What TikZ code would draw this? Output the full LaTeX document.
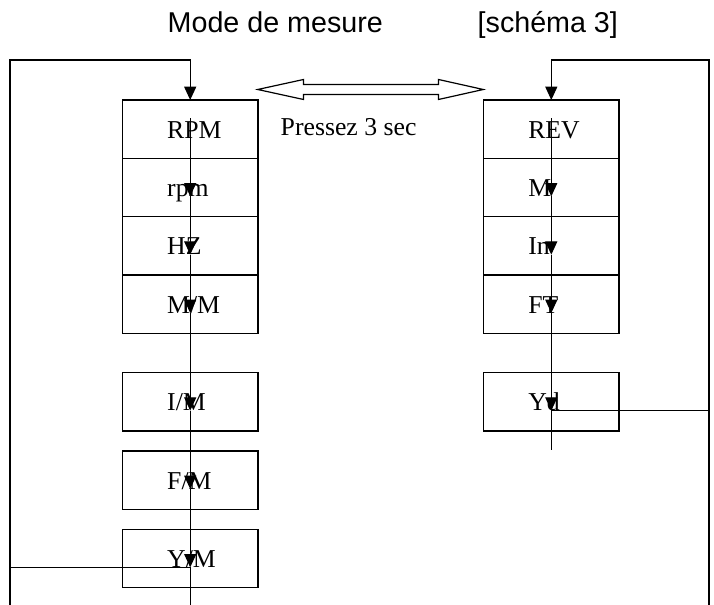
\documentclass[tikz,border=0pt]{standalone}
\usepackage{fontspec}
\setmainfont{Liberation Serif}
\newfontfamily\titlefont{Liberation Sans}
\usetikzlibrary{arrows.meta,positioning,calc}

\begin{document}
\begin{tikzpicture}[x=0.75pt,y=-0.75pt,
    cell/.style={draw,line width=1pt,outer sep=0pt,inner xsep=0pt,inner ysep=0pt,
      minimum height=43.75pt,text width=101.5pt,align=left,
      text height=13.6pt,text depth=0pt,
      font=\fontsize{19.3}{22}\selectfont,execute at begin node=\hspace*{33.5pt}},
    link/.style={line width=0.9pt},
    title/.style={anchor=base west,font=\titlefont\fontsize{21.5}{25}\selectfont},
    >={Triangle[length=10pt,width=9pt]}]
    \useasboundingbox (0,0) rectangle (714,605);
    \node[title] (mode) at (163,32.7) {Mode de mesure};
    \node[title] (ref) at (473,32.7) {[schéma 3]};
    % left column
    \node[cell] (lRPM) at (190.2,129.2) {RPM};
    \node[cell,below=0pt of lRPM] (lrpm) {rpm};
    \node[cell,below=0pt of lrpm] (lHZ) {HZ};
    \node[cell,below=0pt of lHZ] (lMM) {M/M};
    \node[cell,below=29.5pt of lMM] (lIM) {I/M};
    \node[cell,below=15pt of lIM] (lFM) {F/M};
    \node[cell,below=15pt of lFM] (lYM) {Y/M};
    % right column
    \node[cell] (rREV) at (551.3,129.2) {REV};
    \node[cell,below=0pt of rREV] (rM) {M};
    \node[cell,below=0pt of rM] (rIn) {In};
    \node[cell,below=0pt of rIn] (rFT) {FT};
    \node[cell,below=29.5pt of rFT] (rYd) {Yd};
    \node[anchor=base west,font=\fontsize{19.3}{22}\selectfont] (press) at (276,136) {Pressez 3 sec};
    % switch arrow
    \draw[link] (257.7,89.5) -- (303.5,79.5) -- (303.5,84.5) -- (438.5,84.5) -- (438.5,79.5)
      -- (483.3,89.5) -- (438.5,99.5) -- (438.5,94.5) -- (303.5,94.5) -- (303.5,99.5) -- cycle;
    \coordinate (bot) at (0,605);
    \coordinate (ltop) at (10,60);
    \coordinate (rtop) at (709,60);
    % steps
    \draw[link,->] ($(lRPM.north)+(0,18)$) -- ($(lrpm.north)+(0,38)$);
    \foreach \a/\b in {lrpm/lHZ,lHZ/lMM,lMM/lIM,lIM/lFM,lFM/lYM}
      \draw[link,->] ($(\a.north)+(0,38)$) -- ($(\b.north)+(0,38)$);
    \draw[link] ($(lYM.north)+(0,38)$) -- (lYM |- bot);
    \draw[link,->] ($(rREV.north)+(0,18)$) -- ($(rM.north)+(0,38)$);
    \foreach \a/\b in {rM/rIn,rIn/rFT,rFT/rYd}
      \draw[link,->] ($(\a.north)+(0,38)$) -- ($(\b.north)+(0,38)$);
    \draw[link] ($(rYd.north)+(0,38)$) -- ($(rYd.south)+(0,19)$);
    % loops back
    \draw[link,->] ($(lYM.north)+(0,38)$) -| (ltop) -| (lRPM.north);
    \draw[link] (ltop) -- (ltop |- bot);
    \draw[link,->] ($(rYd.north)+(0,38)$) -| (rtop) -| (rREV.north);
    \draw[link] (rtop) -- (rtop |- bot);
\end{tikzpicture}
\end{document}
